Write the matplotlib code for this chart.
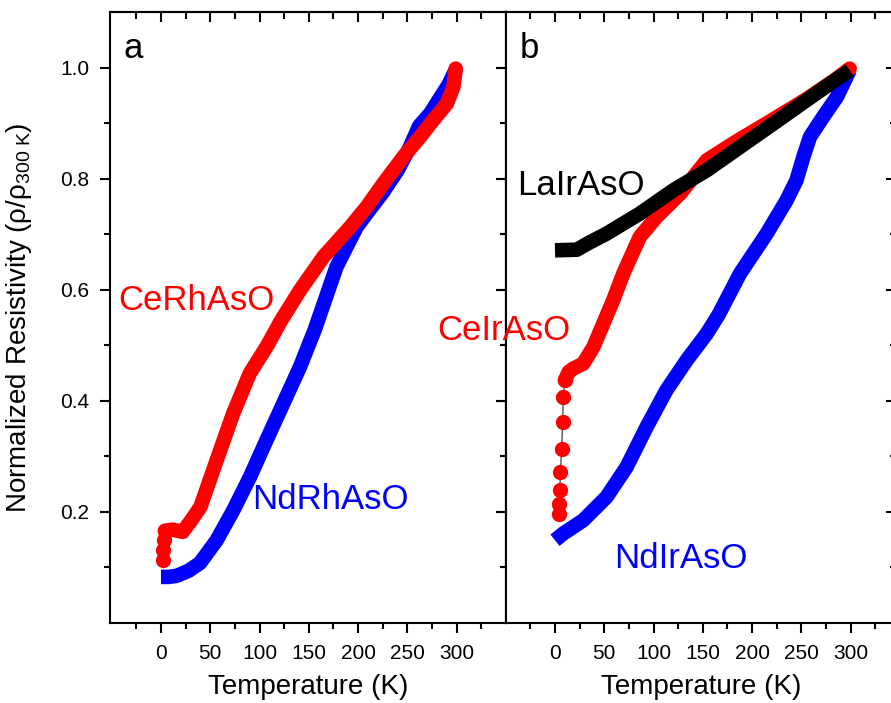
import matplotlib
matplotlib.use("Agg")
import matplotlib.pyplot as plt

plt.rcParams['font.family'] = ['Liberation Sans', 'DejaVu Sans']
plt.rcParams['mathtext.fontset'] = 'custom'
plt.rcParams['mathtext.rm'] = 'Liberation Sans'
plt.rcParams['mathtext.it'] = 'Liberation Sans:italic'

# ---------------- data ----------------
# panel a
ce_rh_T_low = [2, 2, 3]
ce_rh_R_low = [0.113, 0.131, 0.149]
ce_rh_T = [4, 12, 22, 30, 40, 56.5, 73.4, 90.3, 107, 122, 141, 164.7, 192,
           208.7, 225.5, 245.8, 262.8, 276, 290, 296.6, 299]
ce_rh_R = [0.166, 0.168, 0.164, 0.183, 0.209, 0.293, 0.378, 0.450, 0.497,
           0.545, 0.599, 0.659, 0.713, 0.749, 0.791, 0.839, 0.875, 0.905,
           0.935, 0.965, 0.998]

nd_rh_T = [0, 8, 16, 28, 39.6, 56.5, 73.4, 90.3, 107, 124, 141, 156, 178,
           198.5, 212, 225, 240, 252, 262, 273, 283, 292, 300]
nd_rh_R = [0.083, 0.083, 0.085, 0.094, 0.108, 0.149, 0.203, 0.263, 0.329,
           0.395, 0.461, 0.528, 0.641, 0.713, 0.745, 0.775, 0.815, 0.855,
           0.895, 0.917, 0.945, 0.970, 1.0]

# panel b
la_ir_T = [0, 22, 35, 52.4, 86, 120, 154, 187.7, 221.5, 255, 289, 299]
la_ir_R = [0.671, 0.672, 0.685, 0.701, 0.737, 0.779, 0.815, 0.857, 0.899,
           0.941, 0.983, 0.995]

ce_ir_T_low = [4.5, 4.5, 5, 5.5, 6.8, 7.8, 8.4]
ce_ir_R_low = [0.197, 0.215, 0.239, 0.272, 0.314, 0.362, 0.407]
ce_ir_T = [10, 14, 18.6, 28.7, 39, 49, 59, 69.3, 86, 103, 127, 154, 185,
           220, 255, 285, 299]
ce_ir_R = [0.437, 0.452, 0.458, 0.467, 0.497, 0.539, 0.581, 0.629, 0.695,
           0.731, 0.773, 0.833, 0.868, 0.905, 0.943, 0.979, 0.998]

nd_ir_T = [0, 8.4, 28.7, 52.4, 72.7, 93, 113, 133.6, 154, 166, 187.7, 214.8,
           235, 245, 252, 258.7, 272, 286, 299]
nd_ir_R = [0.149, 0.161, 0.185, 0.227, 0.281, 0.353, 0.419, 0.473, 0.521,
           0.555, 0.629, 0.701, 0.761, 0.797, 0.839, 0.875, 0.911, 0.947,
           0.995]

x_major = [0, 50, 100, 150, 200, 250, 300]
x_minor = [-25, 25, 75, 125, 175, 225, 275, 325]
y_major = [0.2, 0.4, 0.6, 0.8, 1.0]
y_minor = [0.1, 0.3, 0.5, 0.7, 0.9]
y_labels = ['0.2', '0.4', '0.6', '0.8', '1.0']

RED = '#ff0000'
BLUE = '#0000ff'
BLACK = '#000000'
LW = 10.5
MS = 11

fig = plt.figure(figsize=(8.91, 7.03), dpi=100)
W, H = 891.0, 703.0
axA = fig.add_axes([110 / W, 80 / H, 395.7 / W, 611 / H])
axB = fig.add_axes([505.7 / W, 80 / H, 390.3 / W, 611 / H])


def style(ax, xlim, ylabels):
    ax.set_xlim(*xlim)
    ax.set_ylim(0, 1.1)
    ax.set_xticks(x_major)
    ax.set_xticks(x_minor, minor=True)
    ax.set_yticks(y_major)
    ax.set_yticks(y_minor, minor=True)
    if ylabels:
        ax.set_yticklabels(y_labels)
    else:
        ax.set_yticklabels([])
    ax.tick_params(which='major', length=7, width=1.5, direction='out',
                   labelsize=15, pad=8, top=False, right=False)
    ax.tick_params(which='minor', length=4, width=1.5, direction='out',
                   top=False, right=False)
    for s in ax.spines.values():
        s.set_linewidth(1.5)
    sx = ax.secondary_xaxis('top')
    sx.set_xticks(x_major)
    sx.set_xticks(x_minor, minor=True)
    sx.tick_params(which='both', direction='in', width=1.5, labeltop=False)
    sx.tick_params(which='major', length=7)
    sx.tick_params(which='minor', length=5)
    sx.spines['top'].set_linewidth(1.5)
    sy = ax.secondary_yaxis('right')
    sy.set_yticks(y_major)
    sy.set_yticks(y_minor, minor=True)
    sy.tick_params(which='both', direction='in', width=1.5, labelright=False)
    sy.tick_params(which='major', length=7)
    sy.tick_params(which='minor', length=4)
    sy.spines['right'].set_linewidth(1.5)
    ax.set_xlabel('Temperature (K)', fontsize=20, labelpad=8)


style(axA, (-51.7, 349.7), True)
style(axB, (-50, 346), False)

axA.set_ylabel('Normalized Resistivity (ρ/ρ$_{\\mathregular{300\\ K}}$)',
               fontsize=20, labelpad=19)

line_kw = dict(lw=LW, solid_joinstyle='round')

# panel a curves
axA.plot(nd_rh_T, nd_rh_R, '-', color=BLUE, solid_capstyle='butt',
         zorder=2, **line_kw)
axA.plot(ce_rh_T_low + ce_rh_T[:1], ce_rh_R_low + ce_rh_R[:1], 'o',
         color=RED, ms=MS, mew=0, zorder=3)
axA.plot(ce_rh_T, ce_rh_R, '-', color=RED, solid_capstyle='round',
         zorder=3, **line_kw)

# panel b curves
axB.plot(nd_ir_T, nd_ir_R, '-', color=BLUE, solid_capstyle='butt',
         zorder=2, **line_kw)
axB.plot(ce_ir_T_low + ce_ir_T[:1], ce_ir_R_low + ce_ir_R[:1], '-',
         color='#555555', lw=1, zorder=3)
axB.plot(ce_ir_T_low + ce_ir_T[:1], ce_ir_R_low + ce_ir_R[:1], 'o',
         color=RED, ms=MS, mew=0, zorder=4)
axB.plot(ce_ir_T, ce_ir_R, '-', color=RED, solid_capstyle='round',
         zorder=4, **line_kw)
axB.plot(la_ir_T, la_ir_R, '-', color=BLACK, solid_capstyle='butt',
         zorder=5, **line_kw)

# annotations
FS = 25
axA.text(-38.5, 1.018, 'a', fontsize=FS, va='baseline', ha='left')
axA.text(-43.6, 0.563, 'CeRhAsO', fontsize=FS, color=RED, va='baseline', ha='left')
axA.text(92.3, 0.205, 'NdRhAsO', fontsize=FS, color=BLUE, va='baseline', ha='left')
axB.text(-35.5, 1.018, 'b', fontsize=FS, va='baseline', ha='left')
axB.text(-38.6, 0.770, 'LaIrAsO', fontsize=FS, color=BLACK, va='baseline', ha='left')
axB.text(-119.7, 0.509, 'CeIrAsO', fontsize=FS, color=RED, va='baseline',
         ha='left', zorder=10)
axB.text(59.9, 0.099, 'NdIrAsO', fontsize=FS, color=BLUE, va='baseline', ha='left')

fig.savefig('out.png', dpi=100)
